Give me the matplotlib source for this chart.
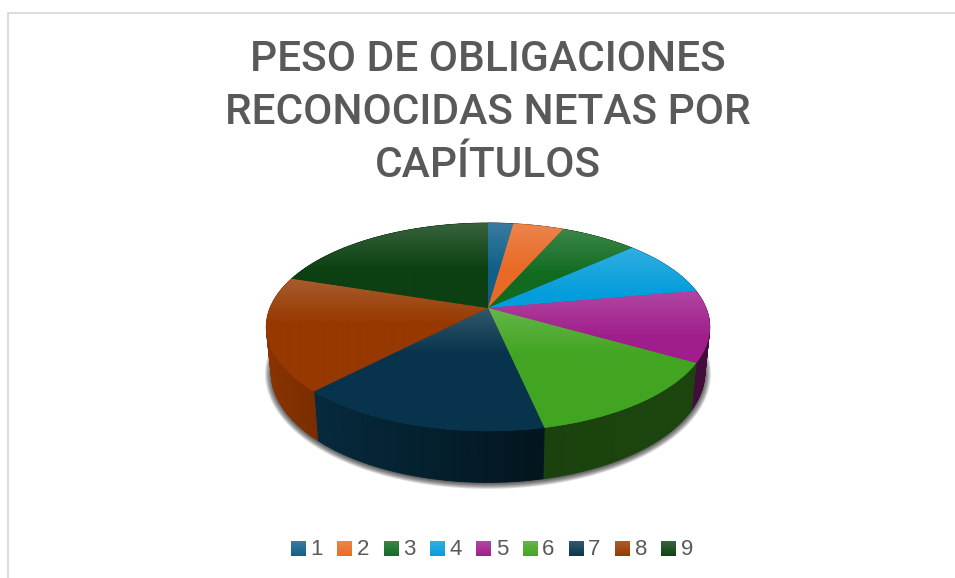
import numpy as np
import matplotlib
matplotlib.use("Agg")
import matplotlib.pyplot as plt
from matplotlib.collections import PolyCollection
from matplotlib.colors import to_rgb
from matplotlib.patches import Polygon

plt.rcParams['font.family'] = ['Roboto', 'Liberation Sans', 'DejaVu Sans']

# data
categories = ['1', '2', '3', '4', '5', '6', '7', '8', '9']
shares = [2.2, 4.4, 6.7, 8.9, 11.1, 13.3, 15.6, 17.8, 20.0]
colors = ['#0f5f8a', '#e86a25', '#106b20', '#049ddb', '#a01e8c',
          '#42a522', '#07344c', '#963800', '#0c4012']
title = 'PESO DE OBLIGACIONES\nRECONOCIDAS NETAS POR\nCAPÍTULOS'

W, H = 955, 578
fig = plt.figure(figsize=(W / 100, H / 100), dpi=100)
ax = fig.add_axes([0, 0, 1, 1])
ax.set_axis_off()

# perspective of the pie, in pixels
CX, CY = 488, 308
A, B, K = 218.0, 100.5, 0.183
BOT_CY, BOT_SX, BOT_SY = 352.0, 0.978, 1.06


def project(theta):
    u, v = np.sin(theta), np.cos(theta)
    d = 1 + K * v
    return A * u / d, B * v / d


def top_xy(theta):
    x, y = project(theta)
    return CX + x, CY - y


def bottom_xy(theta):
    x, y = project(theta)
    return CX + BOT_SX * x, BOT_CY - BOT_SY * y


def gradient(rgb, h_px, span, light=0.18):
    t = np.clip(np.arange(h_px) / span, 0, 1)
    mix = light * (1 - t)
    arr = np.ones((h_px, 1, 3)) * np.array(rgb)
    return arr * (1 - mix[:, None, None]) + mix[:, None, None]


edges = np.deg2rad(np.concatenate([[0], np.cumsum(shares)]) / sum(shares) * 360)
full = np.linspace(0, 2 * np.pi, 361)

# soft shadow under the pie
bx, by = bottom_xy(full)
mx, my = bx.mean(), by.mean()
for r in np.linspace(6, 0, 7):
    sx = mx + (bx - mx) * (1 + r / 217)
    sy = my + (by - my) * (1 + r / 130) + 1
    ax.fill(sx, sy, color='black', alpha=0.13, lw=0, zorder=1)

# side walls
for i, c in enumerate(colors):
    rgb = np.array(to_rgb(c))
    th = np.linspace(edges[i], edges[i + 1], 40)
    tx, ty = top_xy(th)
    qx, qy = bottom_xy(th)
    polys, fcs = [], []
    for j in range(len(th) - 1):
        polys.append([(tx[j], ty[j]), (tx[j + 1], ty[j + 1]),
                      (qx[j + 1], qy[j + 1]), (qx[j], qy[j])])
        f = np.interp((tx[j] + tx[j + 1]) / 2, [266, 318, 543, 700], [0.92, 0.80, 0.40, 0.42])
        fcs.append(rgb * f)
    ax.add_collection(PolyCollection(polys, facecolors=fcs, edgecolors=fcs, linewidths=0.6, zorder=2))

# top faces, each with a light sheen from its upper edge
for i, c in enumerate(colors):
    rgb = to_rgb(c)
    th = np.linspace(edges[i], edges[i + 1], 80)
    tx, ty = top_xy(th)
    xs = np.r_[CX, tx]
    ys = np.r_[CY, ty]
    ax.add_patch(Polygon(np.c_[xs, ys], closed=True, fc=c, ec=c, lw=0.3, zorder=3))
    x0, x1, y0, y1 = xs.min(), xs.max(), ys.min(), ys.max()
    h_px = max(int(y1 - y0) + 1, 2)
    im = ax.imshow(gradient(rgb, h_px, 46), extent=(x0, x1, y1, y0), aspect='auto',
                   interpolation='bilinear', zorder=4)
    clip = Polygon(np.c_[xs, ys], closed=True, transform=ax.transData)
    im.set_clip_path(clip)

# legend
LEG_X0, LEG_DX, LEG_Y, LEG_S = 291, 46.3, 542, 14.5
for i, (name, c) in enumerate(zip(categories, colors)):
    x = LEG_X0 + i * LEG_DX
    ax.imshow(gradient(to_rgb(c), 15, 15, light=0.18),
              extent=(x, x + LEG_S, LEG_Y + LEG_S, LEG_Y), aspect='auto', zorder=5)
    ax.text(x + LEG_S + 5, LEG_Y + LEG_S / 2 + 0.5, name, fontsize=16, color='#595959',
            family=['Liberation Sans', 'DejaVu Sans'], ha='left', va='center', zorder=5)

# title
ax.text(488, 112.5, title, fontsize=30.5, color='#595959', ha='center', va='center',
        linespacing=1.365, fontweight='medium', zorder=5)

# frame of the chart
ax.plot([8, 8, W], [H, 12.5, 12.5], color='#d9d9d9', lw=1.3, zorder=5)

ax.set_xlim(0, W)
ax.set_ylim(H, 0)
fig.savefig('out.png', dpi=100, facecolor='white')
